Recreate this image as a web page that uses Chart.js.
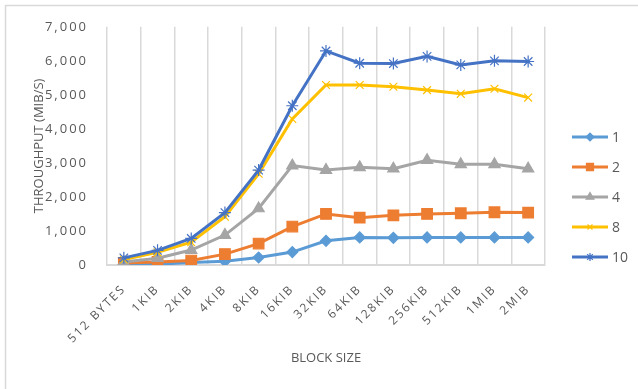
<!DOCTYPE html>
<html>
<head>
<meta charset="utf-8">
<script src="https://cdn.jsdelivr.net/npm/chart.js@4/dist/chart.umd.min.js"></script>
<style>
  html, body { margin: 0; padding: 0; background: #fff; }
  canvas { display: block; }
</style>
</head>
<body>
<canvas id="chart" width="638" height="389"></canvas>
<script>
// Data
const blockSizes = ["512 BYTES", "1KIB", "2KIB", "4KIB", "8KIB", "16KIB", "32KIB",
  "64KIB", "128KIB", "256KIB", "512KIB", "1MIB", "2MIB"];
const threads = ["1", "2", "4", "8", "10"];
const thr1 = [15, 25, 70, 110, 220, 380, 710, 810, 800, 810, 810, 810, 810];
const thr2 = [60, 90, 130, 320, 630, 1130, 1500, 1390, 1460, 1500, 1520, 1550, 1540];
const thr4 = [90, 200, 440, 880, 1660, 2920, 2790, 2870, 2830, 3080, 2960, 2960, 2830];
const thr8 = [160, 370, 670, 1420, 2680, 4290, 5290, 5290, 5240, 5140, 5030, 5180, 4920];
const thr10 = [210, 430, 780, 1540, 2790, 4680, 6290, 5930, 5920, 6130, 5880, 6000, 5980];
const yTicks = [0, 1000, 2000, 3000, 4000, 5000, 6000, 7000];

const textColor = "#595959";
const gridColor = "#d9d9d9";
const fontFamily = "'Open Sans', sans-serif";

function series(label, data, color, pointStyle, radius, legendRadius, order) {
  return {
    label,
    data,
    borderColor: color,
    backgroundColor: color,
    borderWidth: 3,
    pointStyle,
    pointRadius: radius,
    pointBorderWidth: 1.2,
    pointBorderColor: color,
    pointBackgroundColor: color,
    legendRadius,
    tension: 0,
    order,
  };
}

const datasets = [
  series(threads[0], thr1, "#5b9bd5", "rectRot", 5.5, 4, 5),
  series(threads[1], thr2, "#ed7d31", "rect", 7.5, 5, 4),
  series(threads[2], thr4, "#a5a5a5", "triangle", 6.5, 4.5, 3),
  series(threads[3], thr8, "#ffc000", "crossRot", 5.5, 3.5, 2),
  series(threads[4], thr10, "#4472c4", "star", 6, 4, 1),
];

// frame, axis titles and Excel-like legend
const decorations = {
  id: "decorations",
  beforeDraw(chart) {
    const ctx = chart.ctx;
    ctx.save();
    ctx.fillStyle = "#fff";
    ctx.fillRect(0, 0, chart.width, chart.height);
    ctx.strokeStyle = gridColor;
    ctx.lineWidth = 1.5;
    ctx.beginPath();
    ctx.moveTo(5.5, chart.height);
    ctx.lineTo(5.5, 5.5);
    ctx.lineTo(chart.width, 5.5);
    ctx.stroke();
    ctx.restore();
    // wide tracking for the tick labels
    ctx.letterSpacing = "2px";
  },
  afterDraw(chart) {
    const ctx = chart.ctx;
    const area = chart.chartArea;
    ctx.save();
    ctx.letterSpacing = "0px";
    ctx.fillStyle = textColor;
    ctx.font = "13px " + fontFamily;
    ctx.textAlign = "center";
    ctx.textBaseline = "middle";
    ctx.fillText("BLOCK SIZE", (area.left + area.right) / 2, 358);
    ctx.save();
    ctx.translate(39, (area.top + area.bottom) / 2);
    ctx.rotate(-Math.PI / 2);
    ctx.fillText("THROUGHPUT (MIB/S)", 0, 0);
    ctx.restore();

    // legend
    ctx.textAlign = "left";
    chart.data.datasets.forEach((ds, i) => {
      const y = 137 + i * 30;
      ctx.strokeStyle = ds.borderColor;
      ctx.lineWidth = 3;
      ctx.beginPath();
      ctx.moveTo(572, y);
      ctx.lineTo(608, y);
      ctx.stroke();
      ctx.fillStyle = ds.pointBackgroundColor;
      ctx.strokeStyle = ds.pointBorderColor;
      ctx.lineWidth = ds.pointBorderWidth;
      Chart.helpers.drawPoint(ctx, {
        pointStyle: ds.pointStyle,
        radius: ds.legendRadius,
        rotation: 0,
        borderWidth: ds.pointBorderWidth,
      }, 590, y);
      ctx.fillStyle = textColor;
      ctx.font = "14px " + fontFamily;
      ctx.fillText(ds.label, 612, y + 1);
    });
    ctx.restore();
  },
};

new Chart(document.getElementById("chart"), {
  type: "line",
  data: { labels: blockSizes, datasets },
  options: {
    responsive: false,
    animation: false,
    layout: { padding: { top: 25, right: 93, left: 0, bottom: 0 } },
    plugins: {
      legend: { display: false },
      tooltip: { enabled: false },
    },
    scales: {
      x: {
        offset: true,
        grid: { offset: true, color: gridColor, lineWidth: 1.5, drawTicks: false },
        border: { display: true, color: gridColor, width: 2 },
        ticks: {
          color: textColor,
          font: { family: fontFamily, size: 12 },
          minRotation: 45,
          maxRotation: 45,
          autoSkip: false,
          padding: 17,
        },
        afterFit(scale) { scale.height = 124; },
      },
      y: {
        min: 0,
        max: 7000,
        afterBuildTicks(scale) { scale.ticks = yTicks.map((v) => ({ value: v })); },
        grid: { display: false, drawTicks: false },
        border: { display: false },
        ticks: {
          color: textColor,
          font: { family: fontFamily, size: 13 },
          padding: 19,
          callback: (v) => v.toLocaleString("en-US"),
        },
        afterFit(scale) { scale.width = 107; },
      },
    },
  },
  plugins: [decorations],
});
</script>
</body>
</html>
